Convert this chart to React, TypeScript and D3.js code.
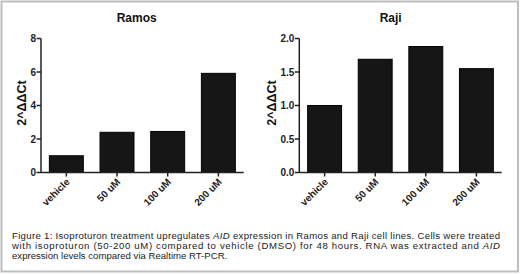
import React from "react";
import * as d3 from "d3";

const categories = ["vehicle", "50 uM", "100 uM", "200 uM"];
const ramosValues = [1.0, 2.4, 2.45, 5.92];
const rajiValues = [1.0, 1.69, 1.88, 1.55];
const ramosTicks = [0, 2, 4, 6, 8];
const rajiTicks = [0, 0.5, 1.0, 1.5, 2.0];
const yLabel = "2^ΔΔCt";
const captionLines: { text: string; italic?: boolean }[][] = [
  [
    { text: "Figure 1: Isoproturon treatment upregulates " },
    { text: "AID", italic: true },
    { text: " expression in Ramos and Raji cell lines. Cells were treated" },
  ],
  [
    { text: "with isoproturon (50-200 uM) compared to vehicle (DMSO) for 48 hours. RNA was extracted and " },
    { text: "AID", italic: true },
  ],
  [{ text: "expression levels compared via Realtime RT-PCR." }],
];

const FONT = "'Liberation Sans', Arial, Helvetica, sans-serif";

type PanelProps = {
  title: string;
  values: number[];
  ticks: number[];
  domainMax: number;
  x0: number;
  x1: number;
  titleX: number;
  labelX: number;
  fmt: (v: number) => string;
};

function Panel({ title, values, ticks, domainMax, x0, x1, titleX, labelX, fmt }: PanelProps) {
  const y = d3.scaleLinear().domain([0, domainMax]).range([172.5, 38.5]);
  const x = d3.scaleBand<string>().domain(categories).range([x0, x1]).paddingInner(0.33).paddingOuter(0.165);
  const xc = d3.scaleBand<string>().domain(categories).range([x0, x1]);
  return (
    <g>
      <text x={titleX} y={22} textAnchor="middle" fontFamily={FONT} fontWeight="bold" fontSize={12} fill="#111">
        {title}
      </text>
      <text
        transform={`translate(${labelX},${103}) rotate(-90)`}
        textAnchor="middle"
        fontFamily={FONT}
        fontWeight="bold"
        fontSize={12.5}
        fill="#111"
      >
        {yLabel}
      </text>
      {values.map((v, i) => (
        <rect
          key={i}
          x={x(categories[i])!}
          y={y(v)}
          width={x.bandwidth()}
          height={y(0) - y(v)}
          fill="#161616"
          stroke="#000"
          strokeWidth={1}
        />
      ))}
      <line x1={x0} x2={x0} y1={y(domainMax)} y2={y(0)} stroke="#222" strokeWidth={1.5} />
      <line x1={x0} x2={x1} y1={y(0)} y2={y(0)} stroke="#222" strokeWidth={1.5} />
      {ticks.map((t) => (
        <g key={t}>
          <line x1={x0 - 4.5} x2={x0} y1={y(t)} y2={y(t)} stroke="#222" strokeWidth={1.5} />
          <text x={x0 - 5} y={y(t) + 3.5} textAnchor="end" fontFamily={FONT} fontWeight="bold" fontSize={10} fill="#222">
            {fmt(t)}
          </text>
        </g>
      ))}
      {categories.map((c) => {
        const cx = xc(c)! + xc.bandwidth() / 2;
        return (
          <g key={c}>
            <line x1={cx} x2={cx} y1={y(0)} y2={y(0) + 4} stroke="#222" strokeWidth={1.5} />
            <text
              transform={`translate(${cx + 4},${y(0) + 10}) rotate(-45)`}
              textAnchor="end"
              fontFamily={FONT}
              fontWeight="bold"
              fontSize={10}
              fill="#222"
            >
              {c}
            </text>
          </g>
        );
      })}
    </g>
  );
}

export default function App() {
  const baselines = [238.5, 249, 259];
  return (
    <svg width={520} height={275} style={{ position: "absolute", left: 0, top: 0, background: "#fff" }}>
      <rect x={0} y={0} width={520} height={275} fill="#fff" />
      <rect x={1.5} y={1.5} width={516.5} height={270} fill="none" stroke="#bdbdbd" strokeWidth={2} />
      <Panel
        title="Ramos"
        values={ramosValues}
        ticks={ramosTicks}
        domainMax={8}
        x0={41}
        x1={243.7}
        titleX={136.7}
        labelX={26}
        fmt={(v) => d3.format("d")(v)}
      />
      <Panel
        title="Raji"
        values={rajiValues}
        ticks={rajiTicks}
        domainMax={2}
        x0={299.3}
        x1={501.7}
        titleX={390.7}
        labelX={276}
        fmt={(v) => d3.format(".1f")(v)}
      />
      {captionLines.map((line, i) => (
        <text
          key={i}
          x={12}
          y={baselines[i]}
          fontFamily={FONT}
          fontSize={9.6}
          fill="#222"
          textLength={i < 2 ? 488 : undefined}
          lengthAdjust={i < 2 ? "spacing" : undefined}
        >
          {line.map((s, j) => (
            <tspan key={j} fontStyle={s.italic ? "italic" : "normal"}>
              {s.text}
            </tspan>
          ))}
        </text>
      ))}
    </svg>
  );
}
